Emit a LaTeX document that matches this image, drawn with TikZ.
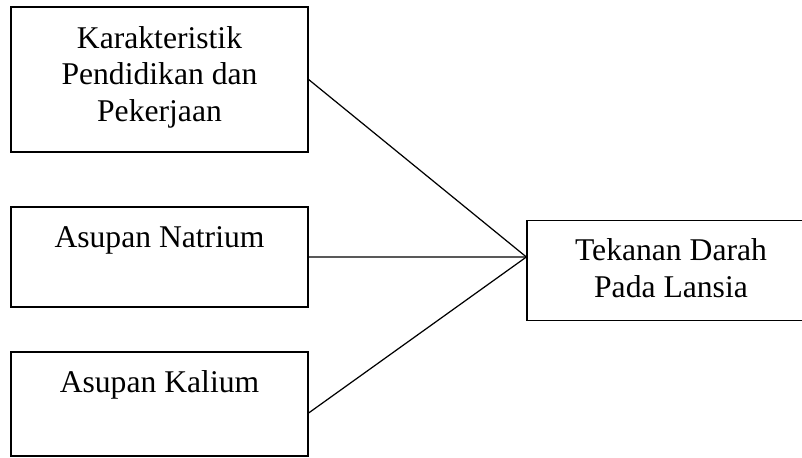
\documentclass[tikz,border=0pt]{standalone}
\usepackage{fontspec}
\setmainfont{Liberation Serif}
\usetikzlibrary{calc}

\begin{document}
\begin{tikzpicture}[
    box/.style={draw, line width=0.7pt, minimum width=5.94cm, inner sep=0pt},
    txt/.style={align=center, inner sep=0pt, anchor=base, font=\fontsize{18}{20.8}\selectfont},
    link/.style={line width=0.7pt}
]
\useasboundingbox (0,0) rectangle (16.04,-9.16);
\clip (0,0) rectangle (16.04,-9.16);

\node[box, minimum height=2.9cm] (kar) at (3.19,-1.59) {};
\node[box, minimum height=2.0cm] (nat) at (3.19,-5.14) {};
\node[box, minimum height=2.08cm] (kal) at (3.19,-8.08) {};
\node[box, minimum width=5.76cm, minimum height=2.0cm] (tek) at (13.42,-5.41) {};

% base of a multi-line text is its last line
\node[txt] (kartxt) at ($(kar.north)+(0,-2.30)$) {Karakteristik\\Pendidikan dan\\Pekerjaan};
\node[txt] (nattxt) at ($(nat.north)+(0,-0.82)$) {Asupan Natrium};
\node[txt] (kaltxt) at ($(kal.north)+(0,-0.82)$) {Asupan Kalium};
\node[txt] (tektxt) at ($(tek.north)+(0,-1.55)$) {Tekanan Darah\\Pada Lansia};

\coordinate (meet) at ($(tek.west)+(0,0.27)$);
\coordinate (kalout) at ($(kal.east)+(0,-0.18)$);

\draw[link] (kar.east) -- (meet);
\draw[link] (nat.east) -- (meet);
\draw[link] (kalout) -- (meet);
\end{tikzpicture}
\end{document}
